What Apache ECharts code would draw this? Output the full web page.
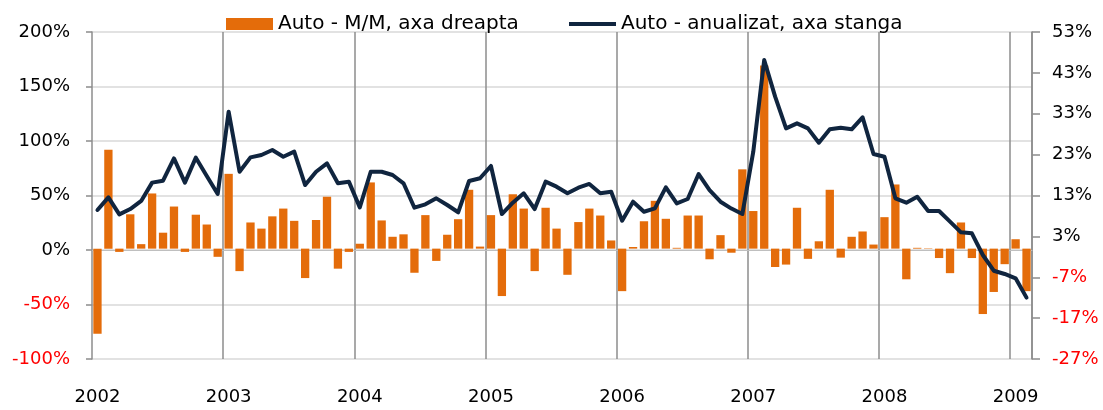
<!DOCTYPE html>
<html>
<head>
<meta charset="utf-8">
<script src="https://cdn.jsdelivr.net/npm/echarts@6/dist/echarts.min.js"></script>
<style>
  html, body { margin: 0; padding: 0; background: #ffffff; }
  #chart { width: 1103px; height: 410px; }
</style>
</head>
<body>
<div id="chart"></div>
<script>
// Years shown on the horizontal axis and month codes (Jan 2002 .. Feb 2009)
const years = ['2002', '2003', '2004', '2005', '2006', '2007', '2008', '2009'];
const monthCodes = ['01','02','03','04','05','06','07','08','09','10','11','12'];
const lastMonthCount = 2; // data for 2009 ends in February

const seriesBarName = 'Auto - M/M, axa dreapta';
const seriesLineName = 'Auto - anualizat, axa stanga';

// Monthly change, right axis (%)
const autoMM = [
  -20.8, 24.2, -0.8, 8.4, 1.1, 13.5, 3.9, 10.3, -0.8, 8.3, 5.9, -2.0,
  18.3, -5.5, 6.4, 4.9, 7.9, 9.8, 6.8, -7.2, 7.0, 12.7, -4.9, -0.8,
  1.2, 16.2, 6.9, 2.9, 3.5, -5.9, 8.2, -3.0, 3.4, 7.2, 14.4, 0.5,
  8.2, -11.6, 13.3, 9.8, -5.5, 10.0, 4.9, -6.4, 6.5, 9.8, 8.1, 2.0,
  -10.4, 0.4, 6.7, 11.7, 7.3, 0.2, 8.1, 8.1, -2.6, 3.3, -1.0, 19.4,
  9.2, 44.8, -4.5, -3.9, 10.0, -2.5, 1.8, 14.4, -2.2, 2.9, 4.2, 1.0,
  7.7, 15.7, -7.5, 0.2, 0.1, -2.3, -6.0, 6.4, -2.3, -16.0, -10.6, -3.8,
  2.3, -10.4
];

// Annualized, left axis (%)
const autoAnnual = [
  36.7, 48.3, 32.7, 37.6, 45.0, 61.8, 63.6, 84.0, 61.8, 84.7, 67.9, 51.4,
  126.9, 71.8, 85.0, 87.2, 91.7, 85.6, 90.2, 59.6, 71.8, 79.5, 61.2, 62.7,
  39.1, 71.8, 71.8, 68.8, 61.2, 38.8, 41.9, 47.4, 41.3, 34.6, 63.3, 65.8,
  77.1, 33.0, 43.4, 52.0, 37.6, 62.7, 58.1, 52.0, 57.2, 60.6, 52.0, 53.5,
  26.9, 44.3, 35.1, 38.2, 57.5, 42.8, 46.8, 69.7, 55.0, 44.3, 38.0, 33.0,
  90.2, 174.3, 140.7, 111.6, 116.2, 111.6, 98.4, 110.7, 112.2, 110.7, 121.7, 88.1,
  85.6, 47.4, 43.4, 48.9, 35.8, 35.8, 26.0, 16.2, 15.3, -4.6, -19.0, -22.0,
  -26.0, -43.7
];

// Axis ranges
const leftAxis = { min: -100, max: 200, interval: 50 };
const rightAxis = { min: -27, max: 53, interval: 10 };

// Build month categories from years
const categories = [];
years.forEach((y, yi) => {
  const n = (yi === years.length - 1) ? lastMonthCount : 12;
  for (let m = 0; m < n; m++) categories.push(y + '-' + monthCodes[m]);
});

const FONT = 'DejaVu Sans';
const BAR_COLOR = '#E46C0A';
const LINE_COLOR = '#10253F';
const negColor = (v) => (parseFloat(v) < 0 ? '#FF0000' : '#000000');
const legendText = { fontFamily: FONT, fontSize: 20, color: '#000000' };

const chart = echarts.init(document.getElementById('chart'), null, { renderer: 'canvas' });
chart.setOption({
  backgroundColor: '#ffffff',
  animation: false,
  textStyle: { fontFamily: FONT },
  legend: [
    {
      left: 221,
      top: 9,
      itemWidth: 47,
      itemHeight: 12,
      icon: 'rect',
      textStyle: legendText,
      data: [seriesBarName]
    },
    {
      left: 564,
      top: 9,
      itemWidth: 47,
      itemHeight: 4,
      icon: 'rect',
      textStyle: legendText,
      data: [seriesLineName]
    }
  ],
  grid: { left: 92, right: 71, top: 32, bottom: 51, containLabel: false },
  xAxis: {
    type: 'category',
    data: categories,
    boundaryGap: true,
    axisLine: { show: true, lineStyle: { color: '#BFBFBF', width: 1 } },
    axisTick: { show: false },
    axisLabel: {
      interval: (i) => i % 12 === 0,
      formatter: (v) => v.substring(0, 4),
      fontFamily: FONT,
      fontSize: 18,
      color: '#000000',
      margin: 29
    },
    splitLine: {
      show: true,
      interval: (i) => i % 12 === 0 && i > 0,
      lineStyle: { color: '#8C8C8C', width: 1.5 }
    }
  },
  yAxis: [
    {
      type: 'value',
      position: 'left',
      min: leftAxis.min,
      max: leftAxis.max,
      interval: leftAxis.interval,
      axisLine: { show: true, lineStyle: { color: '#8C8C8C', width: 1.5 } },
      axisTick: { show: true, inside: false, length: 6, lineStyle: { color: '#8C8C8C', width: 1.5 } },
      axisLabel: {
        formatter: '{value}%',
        fontFamily: FONT,
        fontSize: 18,
        margin: 22,
        color: negColor
      },
      splitLine: { show: true, lineStyle: { color: '#D9D9D9', width: 1.5 } }
    },
    {
      type: 'value',
      position: 'right',
      min: rightAxis.min,
      max: rightAxis.max,
      interval: rightAxis.interval,
      axisLine: { show: true, lineStyle: { color: '#8C8C8C', width: 1.5 } },
      axisTick: { show: true, inside: false, length: 8, lineStyle: { color: '#8C8C8C', width: 1.5 } },
      axisLabel: {
        formatter: '{value}%',
        fontFamily: FONT,
        fontSize: 18,
        margin: 20,
        color: negColor
      },
      splitLine: { show: false }
    }
  ],
  series: [
    {
      name: seriesBarName,
      type: 'bar',
      yAxisIndex: 1,
      data: autoMM,
      barCategoryGap: '24%',
      itemStyle: { color: BAR_COLOR }
    },
    {
      name: seriesLineName,
      type: 'line',
      yAxisIndex: 0,
      data: autoAnnual,
      symbol: 'none',
      showSymbol: false,
      lineStyle: { color: LINE_COLOR, width: 4, join: 'round', cap: 'round' },
      itemStyle: { color: LINE_COLOR },
      z: 5
    }
  ]
});
</script>
</body>
</html>
